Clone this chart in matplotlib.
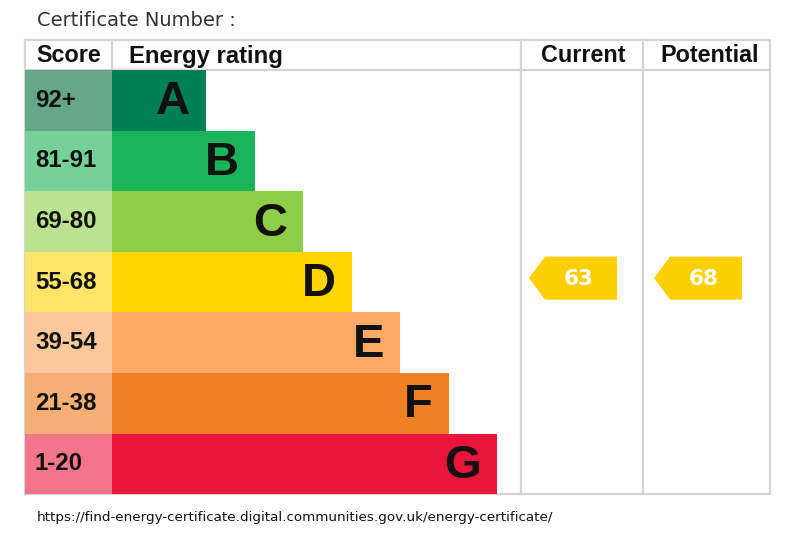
import matplotlib
matplotlib.use("Agg")
import matplotlib.pyplot as plt
from matplotlib.patches import Rectangle, Polygon

# ---- data ----
bands = ["A", "B", "C", "D", "E", "F", "G"]
score_ranges = ["92+", "81-91", "69-80", "55-68", "39-54", "21-38", "1-20"]
band_lower = [92, 81, 69, 55, 39, 21, 1]
bar_colors = ["#008054", "#19b459", "#8dce46", "#ffd500", "#fcaa65", "#ef8023", "#e9153b"]
score_colors = ["#66a688", "#75d197", "#bbe290", "#ffe468", "#fdc79c", "#f5ae74", "#f2758b"]
current_rating = 63
potential_rating = 68
headers = ["Score", "Energy rating", "Current", "Potential"]
title_text = "Certificate Number :"
url_text = "https://find-energy-certificate.digital.communities.gov.uk/energy-certificate/"

W, H = 800, 533
fig = plt.figure(figsize=(W / 100, H / 100), dpi=100)
ax = fig.add_axes([0, 0, 1, 1])
ax.set_xlim(0, W)
ax.set_ylim(H, 0)
ax.axis("off")

left, score_r, bar_start = 25, 112, 112
cur_l, pot_l, right = 521, 643, 770
top, head_b = 40, 70
row_h = 60.6
bar_w0, bar_step = 94, 48.5
grid = "#d4d4d4"

hfont = dict(family="Liberation Sans", weight="bold", color="#111111")

# header
ax.text(37, 21, title_text, fontsize=14, family="DejaVu Sans", color="#333333",
        va="center", ha="left")
ax.text(69, 56, headers[0], fontsize=16.8, ha="center", va="center", **hfont)
ax.text(129, 56, headers[1], fontsize=17.2, ha="left", va="center", **hfont)
ax.text(583, 56, headers[2], fontsize=16.8, ha="center", va="center", **hfont)
ax.text(710, 56, headers[3], fontsize=16.8, ha="center", va="center", **hfont)

bottom = head_b + row_h * len(bands)

# rows
for i, (b, s, bc, sc) in enumerate(zip(bands, score_ranges, bar_colors, score_colors)):
    y0 = head_b + i * row_h
    ax.add_patch(Rectangle((left, y0), score_r - left, row_h, facecolor=sc, edgecolor="none", zorder=2))
    bw = bar_w0 + bar_step * i
    ax.add_patch(Rectangle((bar_start, y0), bw, row_h, facecolor=bc, edgecolor="none", zorder=2))
    ax.text(35, y0 + row_h / 2, s, fontsize=17.3, ha="left", va="center", zorder=3, **hfont)
    ax.text(bar_start + bw - 16, y0 + row_h / 2 + 2, b, fontsize=34, ha="right", va="center",
            family="Liberation Sans", weight="bold", color="#111111", zorder=3)

# grid lines
lw = 1.6
ax.plot([left, right], [top, top], color=grid, lw=lw, zorder=1)
ax.plot([left, right], [head_b, head_b], color=grid, lw=lw, zorder=1)
ax.plot([left, right], [bottom, bottom], color=grid, lw=lw, zorder=1)
for x in [left, cur_l, pot_l, right]:
    ax.plot([x, x], [top, bottom], color=grid, lw=lw, zorder=1)
ax.plot([score_r, score_r], [top, head_b], color=grid, lw=lw, zorder=1)


def band_index(v):
    for k, lo in enumerate(band_lower):
        if v >= lo:
            return k
    return len(band_lower) - 1


def arrow(col_left, offset, value):
    k = band_index(value)
    yc = head_b + k * row_h + row_h / 2 - 4
    hh = 21.5
    tip = col_left + offset
    body = tip + 16
    r = tip + 88
    poly = Polygon([(tip, yc), (body, yc - hh), (r, yc - hh), (r, yc + hh), (body, yc + hh)],
                   closed=True, facecolor="#fccf00", edgecolor="none", zorder=3)
    ax.add_patch(poly)
    ax.text((body + r) / 2 - 2, yc + 1, str(value), fontsize=15.5, ha="center", va="center",
            family="DejaVu Sans", weight="bold", color="white", zorder=4)


arrow(cur_l, 8, current_rating)
arrow(pot_l, 11, potential_rating)

ax.text(37, 518, url_text, fontsize=9.7, family="DejaVu Sans", color="#111111",
        ha="left", va="center")

fig.savefig("out.png", dpi=100)
